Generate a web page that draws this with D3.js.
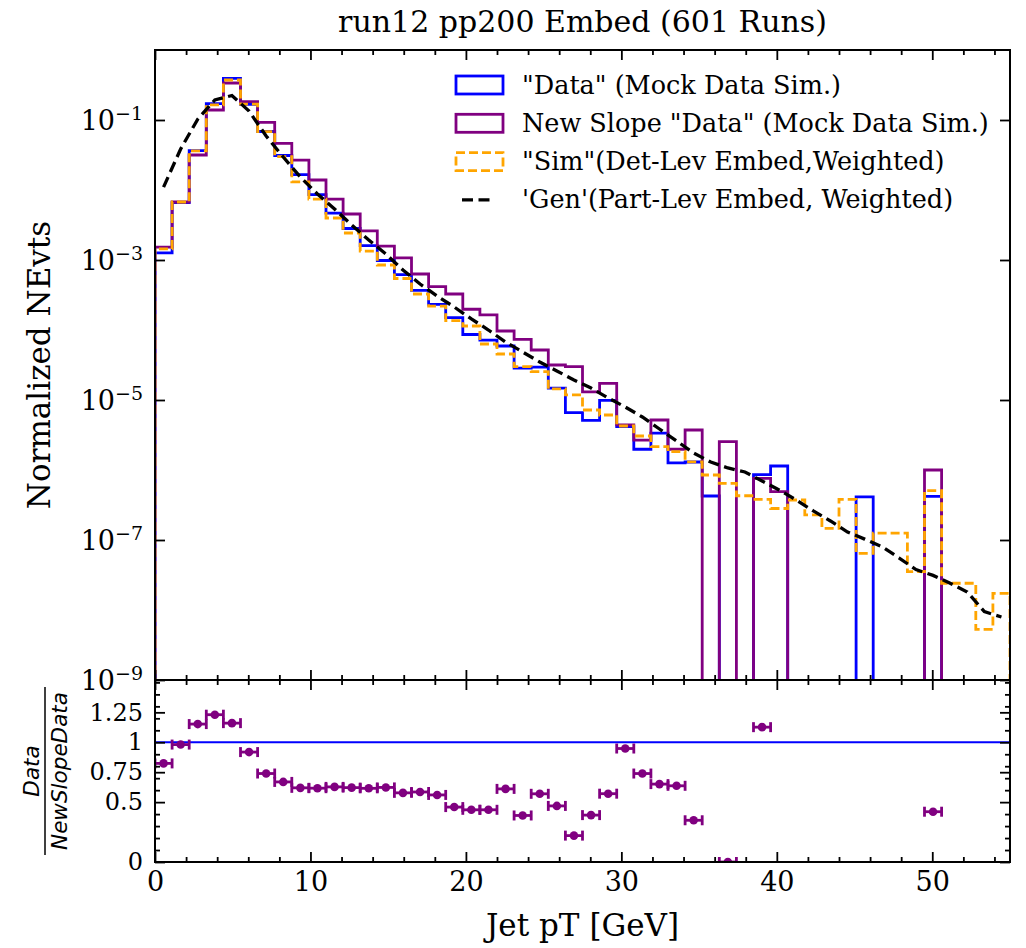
<!DOCTYPE html>
<html>
<head>
<meta charset="utf-8">
<script src="https://cdn.jsdelivr.net/npm/d3@7/dist/d3.min.js"></script>
<style>
  body { margin: 0; background: #fff; }
  svg text { font-family: "DejaVu Serif", serif; fill: #000; }
  .ratio-label text { font-family: "DejaVu Sans", sans-serif; font-style: italic; }
</style>
</head>
<body>
<svg id="chart" width="1026" height="948"></svg>
<script>
// 50 bins of 1.1 GeV between 0 and 55 GeV
const binWidth = 1.1;
const binEdges = d3.range(51).map(i => +(i * binWidth).toFixed(2));

// "Data" (Mock Data Sim.)  -- 0 means empty bin
const dataVals = [
  1.26e-3, 6.61e-3, 3.64e-2, 0.171, 0.392, 0.168, 6.85e-2, 3.11e-2, 1.66e-2, 8.57e-3,
  4.66e-3, 2.82e-3, 1.60e-3, 9.84e-4, 6.18e-4, 3.69e-4, 2.33e-4, 1.50e-4, 8.63e-5, 7.15e-5,
  5.91e-5, 2.86e-5, 2.95e-5, 1.48e-5, 6.59e-6, 5.13e-6, 9.87e-6, 4.17e-6, 1.98e-6, 3.37e-6,
  1.26e-6, 1.30e-6, 4.25e-7, 0, 0, 8.57e-7, 1.14e-6, 0, 0, 0,
  0, 4.12e-7, 0, 0, 0, 4.20e-7, 0, 0, 0, 0
];

// New Slope "Data" (Mock Data Sim.)
const newSlopeVals = [
  1.53e-3, 6.74e-3, 3.16e-2, 0.139, 0.338, 0.183, 9.27e-2, 4.65e-2, 2.68e-2, 1.39e-2,
  7.43e-3, 4.54e-3, 2.60e-3, 1.58e-3, 1.07e-3, 6.31e-4, 4.16e-4, 3.27e-4, 1.98e-4, 1.64e-4,
  9.68e-5, 7.36e-5, 5.18e-5, 3.16e-5, 2.99e-5, 1.31e-5, 1.73e-5, 4.40e-6, 2.68e-6, 5.18e-6,
  1.98e-6, 3.73e-6, 0, 2.54e-6, 0, 7.61e-7, 4.90e-7, 0, 0, 0,
  0, 0, 0, 0, 0, 1.0e-6, 0, 0, 0, 0
];

// "Sim" (Det-Lev Embed, Weighted)
const simVals = [
  1.44e-3, 6.74e-3, 3.61e-2, 0.164, 0.373, 0.169, 6.81e-2, 2.99e-2, 1.31e-2, 7.43e-3,
  3.98e-3, 2.43e-3, 1.34e-3, 8.48e-4, 5.44e-4, 3.27e-4, 2.20e-4, 1.36e-4, 1.14e-4, 6.31e-5,
  4.54e-5, 2.99e-5, 2.54e-5, 1.44e-5, 1.18e-5, 7.20e-6, 6.11e-6, 4.25e-6, 3.06e-6, 2.16e-6,
  1.83e-6, 1.31e-6, 8.48e-7, 6.45e-7, 4.29e-7, 3.81e-7, 2.82e-7, 3.73e-7, 2.28e-7, 1.47e-7,
  3.81e-7, 6.45e-8, 1.25e-7, 1.25e-7, 3.53e-8, 5.06e-7, 2.41e-8, 2.41e-8, 5.30e-9, 1.73e-8
];

// 'Gen' (Part-Lev Embed, Weighted), drawn through bin centres
const genVals = [
  1.10e-2, 3.85e-2, 0.103, 0.193, 0.224, 0.134, 5.91e-2, 2.96e-2, 1.53e-2, 8.77e-3,
  5.35e-3, 3.16e-3, 1.93e-3, 1.22e-3, 7.20e-4, 4.54e-4, 3.06e-4, 2.13e-4, 1.44e-4, 1.00e-4,
  6.74e-5, 4.85e-5, 3.49e-5, 2.60e-5, 1.93e-5, 1.48e-5, 1.07e-5, 7.94e-6, 5.72e-6, 3.85e-6,
  2.60e-6, 1.75e-6, 1.30e-6, 1.07e-6, 9.36e-7, 6.97e-7, 5.18e-7, 3.73e-7, 2.60e-7, 1.87e-7,
  1.30e-7, 1.03e-7, 8.05e-8, 5.57e-8, 3.78e-8, 3.12e-8, 2.41e-8, 1.81e-8, 9.48e-9, 7.94e-9
];

const xTicks = [0, 10, 20, 30, 40, 50];
const yTopTicks = [1e-9, 1e-7, 1e-5, 1e-3, 1e-1];
const yRatioTicks = [0, 0.5, 0.75, 1, 1.25];
const yRatioTickLabels = ['0', '0.5', '0.75', '1', '1.25'];

const legendLabels = [
  '"Data" (Mock Data Sim.)',
  'New Slope "Data" (Mock Data Sim.)',
  '"Sim"(Det-Lev Embed,Weighted)',
  "'Gen'(Part-Lev Embed, Weighted)"
];

const margin = { left: 155, right: 1010, top: 50, mid: 680, bottom: 862 };

const svg = d3.select('#chart');

const x = d3.scaleLinear().domain([0, 55]).range([margin.left, margin.right]);
const yTop = d3.scaleLog().domain([1e-9, 1]).range([margin.mid, margin.top]);
const yRat = d3.scaleLinear().domain([0, 1.52]).range([margin.bottom, margin.mid]);

// clip paths
const defs = svg.append('defs');
defs.append('clipPath').attr('id', 'clipTop')
  .append('rect')
  .attr('x', margin.left).attr('y', margin.top)
  .attr('width', margin.right - margin.left).attr('height', margin.mid - margin.top);
defs.append('clipPath').attr('id', 'clipRat')
  .append('rect')
  .attr('x', margin.left).attr('y', margin.mid)
  .attr('width', margin.right - margin.left).attr('height', margin.bottom - margin.mid);

const line = d3.line();
const floorY = margin.mid + 20;

function stepPoints(vals) {
  const pts = [[x(binEdges[0]), floorY]];
  vals.forEach((v, i) => {
    const yy = v > 0 ? yTop(v) : floorY;
    pts.push([x(binEdges[i]), yy]);
    pts.push([x(binEdges[i + 1]), yy]);
  });
  pts.push([x(binEdges[binEdges.length - 1]), floorY]);
  return pts;
}

const topG = svg.append('g').attr('clip-path', 'url(#clipTop)');

const histSeries = [
  { vals: dataVals, color: '#0000ff', dash: null },
  { vals: newSlopeVals, color: '#800080', dash: null },
  { vals: simVals, color: '#ffa500', dash: '9,4' }
];
histSeries.forEach(s => {
  topG.append('path')
    .attr('d', line(stepPoints(s.vals)))
    .attr('fill', 'none')
    .attr('stroke', s.color)
    .attr('stroke-width', 2.8)
    .attr('stroke-dasharray', s.dash);
});

// Gen curve
const genLine = d3.line()
  .x((d, i) => x((binEdges[i] + binEdges[i + 1]) / 2))
  .y(d => yTop(d));
topG.append('path')
  .datum(genVals)
  .attr('d', genLine)
  .attr('fill', 'none')
  .attr('stroke', '#000')
  .attr('stroke-width', 3.3)
  .attr('stroke-dasharray', '11,5.5');

// ratio panel
const ratG = svg.append('g').attr('clip-path', 'url(#clipRat)');
ratG.append('line')
  .attr('x1', margin.left).attr('x2', margin.right)
  .attr('y1', yRat(1)).attr('y2', yRat(1))
  .attr('stroke', '#0000ff').attr('stroke-width', 2);

const ratio = dataVals.map((d, i) => {
  const n = newSlopeVals[i];
  if (n > 0) return { i, r: d / n };
  return null;
}).filter(d => d !== null);

const pts = ratG.selectAll('.rpt').data(ratio).enter().append('g').attr('class', 'rpt');
pts.append('line')
  .attr('x1', d => x(binEdges[d.i])).attr('x2', d => x(binEdges[d.i + 1]))
  .attr('y1', d => yRat(d.r)).attr('y2', d => yRat(d.r))
  .attr('stroke', '#800080').attr('stroke-width', 2.8);
[0, 1].forEach(k => {
  pts.append('line')
    .attr('x1', d => x(binEdges[d.i + k])).attr('x2', d => x(binEdges[d.i + k]))
    .attr('y1', d => yRat(d.r) - 5).attr('y2', d => yRat(d.r) + 5)
    .attr('stroke', '#800080').attr('stroke-width', 2.8);
});
pts.append('circle')
  .attr('cx', d => x((binEdges[d.i] + binEdges[d.i + 1]) / 2))
  .attr('cy', d => yRat(d.r))
  .attr('r', 4.3)
  .attr('fill', '#800080');

// axes helpers
const xMinor = d3.range(0, 56, 2).filter(v => v % 10 !== 0);

function addXAxes(yPos, showLabels) {
  const gb = svg.append('g').attr('transform', `translate(0,${yPos})`)
    .call(d3.axisBottom(x).tickValues(xTicks).tickSize(-10).tickPadding(10)
      .tickFormat(showLabels ? d3.format('d') : ''));
  gb.select('.domain').remove();
  svg.append('g').attr('transform', `translate(0,${yPos})`)
    .call(d3.axisBottom(x).tickValues(xMinor).tickSize(-5).tickFormat(''))
    .select('.domain').remove();
  return gb;
}
function addXAxesTop(yPos) {
  svg.append('g').attr('transform', `translate(0,${yPos})`)
    .call(d3.axisTop(x).tickValues(xTicks).tickSize(-10).tickFormat(''))
    .select('.domain').remove();
  svg.append('g').attr('transform', `translate(0,${yPos})`)
    .call(d3.axisTop(x).tickValues(xMinor).tickSize(-5).tickFormat(''))
    .select('.domain').remove();
}

// top panel x ticks (top and bottom edges)
addXAxesTop(margin.top);
addXAxes(margin.mid, false);
// ratio panel x ticks
addXAxesTop(margin.mid);
const xAxisBottom = addXAxes(margin.bottom, true);
xAxisBottom.selectAll('text').style('font-size', '27px');

// top panel y ticks
const yTopAxis = svg.append('g').attr('transform', `translate(${margin.left},0)`)
  .call(d3.axisLeft(yTop).tickValues(yTopTicks).tickSize(-10).tickFormat(''));
yTopAxis.select('.domain').remove();
yTopAxis.selectAll('.tick').append('text')
  .attr('x', -12).attr('dy', '0.35em')
  .attr('text-anchor', 'end')
  .style('font-size', '27px')
  .each(function(d) {
    const t = d3.select(this);
    t.append('tspan').text('10');
    t.append('tspan').attr('dy', '-0.5em').style('font-size', '19px')
      .text('\u2212' + Math.round(-Math.log10(d)));
  });
svg.append('g').attr('transform', `translate(${margin.right},0)`)
  .call(d3.axisRight(yTop).tickValues(yTopTicks).tickSize(-10).tickFormat(''))
  .select('.domain').remove();

// ratio y ticks
const yRatMinor = d3.range(1, 16).map(v => v / 10).filter(v => v !== 0.5 && v !== 1);
const yRatAxis = svg.append('g').attr('transform', `translate(${margin.left},0)`)
  .call(d3.axisLeft(yRat).tickValues(yRatioTicks).tickSize(-10).tickPadding(12)
    .tickFormat((d, i) => yRatioTickLabels[i]));
yRatAxis.select('.domain').remove();
yRatAxis.selectAll('text').style('font-size', '24px');
svg.append('g').attr('transform', `translate(${margin.left},0)`)
  .call(d3.axisLeft(yRat).tickValues(yRatMinor).tickSize(-5).tickFormat(''))
  .select('.domain').remove();
svg.append('g').attr('transform', `translate(${margin.right},0)`)
  .call(d3.axisRight(yRat).tickValues(yRatioTicks).tickSize(-10).tickFormat(''))
  .select('.domain').remove();
svg.append('g').attr('transform', `translate(${margin.right},0)`)
  .call(d3.axisRight(yRat).tickValues(yRatMinor).tickSize(-5).tickFormat(''))
  .select('.domain').remove();

svg.selectAll('.tick line').attr('stroke', '#000').attr('stroke-width', 1.8);
svg.selectAll('.tick text').attr('fill', '#000').style('font-family', '"DejaVu Serif", serif');

// frames
[[margin.top, margin.mid], [margin.mid, margin.bottom]].forEach(([a, b]) => {
  svg.append('rect')
    .attr('x', margin.left).attr('y', a)
    .attr('width', margin.right - margin.left).attr('height', b - a)
    .attr('fill', 'none').attr('stroke', '#000').attr('stroke-width', 2);
});

// titles and labels
svg.append('text')
  .attr('x', (margin.left + margin.right) / 2).attr('y', 32)
  .attr('text-anchor', 'middle').style('font-size', '30px')
  .text('run12 pp200 Embed (601 Runs)');

svg.append('text')
  .attr('x', (margin.left + margin.right) / 2).attr('y', 936)
  .attr('text-anchor', 'middle').style('font-size', '31px')
  .text('Jet pT [GeV]');

svg.append('text')
  .attr('transform', `translate(50,${(margin.top + margin.mid) / 2}) rotate(-90)`)
  .attr('text-anchor', 'middle').style('font-size', '31px')
  .text('Normalized NEvts');

const rl = svg.append('g').attr('class', 'ratio-label')
  .attr('transform', `translate(45,${(margin.mid + margin.bottom) / 2}) rotate(-90)`);
rl.append('text').attr('x', 0).attr('y', -6).attr('text-anchor', 'middle')
  .style('font-size', '21.5px').text('Data');
rl.append('line').attr('x1', -84).attr('x2', 84).attr('y1', 0).attr('y2', 0)
  .attr('stroke', '#000').attr('stroke-width', 1.5);
rl.append('text').attr('x', 0).attr('y', 22).attr('text-anchor', 'middle')
  .style('font-size', '21.5px').text('NewSlopeData');

// legend
const legend = svg.append('g').attr('transform', 'translate(455,85)');
const legendRowH = 38.3;
const legendStyles = [
  { color: '#0000ff', dash: null, type: 'box' },
  { color: '#800080', dash: null, type: 'box' },
  { color: '#ffa500', dash: '9,4', type: 'box' },
  { color: '#000', dash: '11,5.5', type: 'line' }
];
legendLabels.forEach((lab, i) => {
  const g = legend.append('g').attr('transform', `translate(0,${i * legendRowH})`);
  const st = legendStyles[i];
  if (st.type === 'box') {
    g.append('rect').attr('x', 1).attr('y', -9).attr('width', 47).attr('height', 18)
      .attr('fill', 'none').attr('stroke', st.color).attr('stroke-width', 2.8)
      .attr('stroke-dasharray', st.dash);
  } else {
    g.append('line').attr('x1', 7).attr('x2', 40).attr('y1', 0).attr('y2', 0)
      .attr('stroke', st.color).attr('stroke-width', 3.3)
      .attr('stroke-dasharray', st.dash);
  }
  g.append('text').attr('x', 67).attr('y', 8.5).style('font-size', '25.5px').text(lab);
});
</script>
</body>
</html>
